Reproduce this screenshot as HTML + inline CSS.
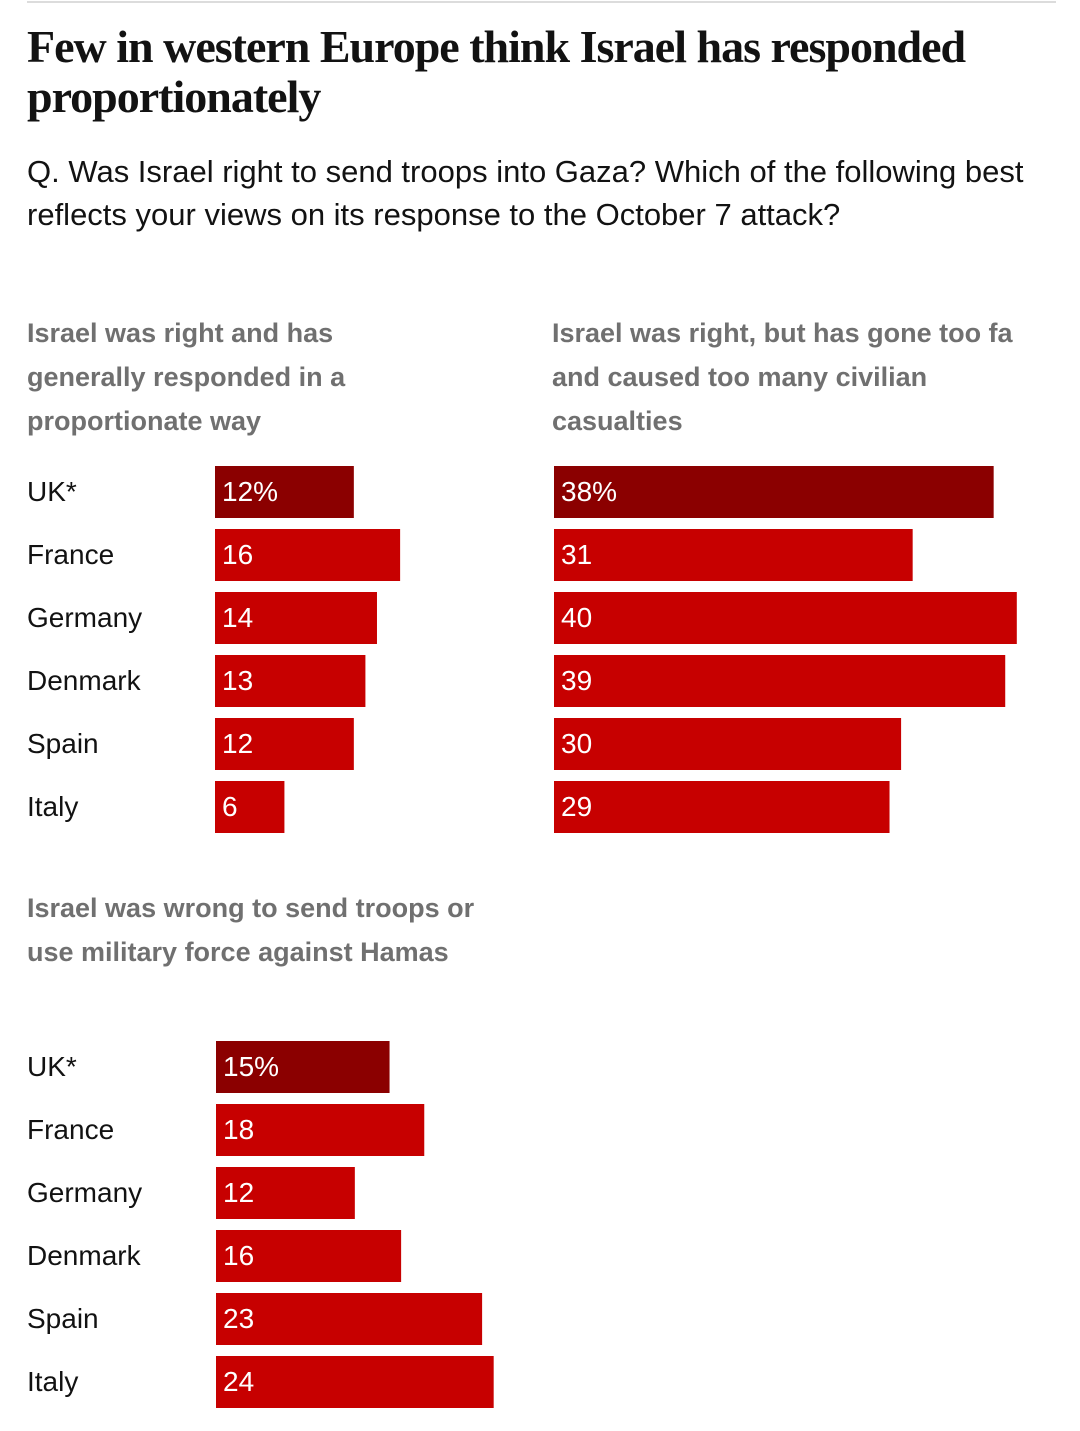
<!DOCTYPE html>
<html><head><meta charset="utf-8">
<style>
body{margin:0;width:1080px;height:1431px;background:#fff;position:relative;overflow:hidden;font-family:"Liberation Sans",sans-serif;}
.rule{position:absolute;left:27px;top:1px;width:1029px;height:2px;background:#dcdcdc;}
h1{position:absolute;left:27px;top:22px;margin:0;font-family:"Liberation Serif",serif;font-weight:bold;font-size:46px;line-height:50px;letter-spacing:-1px;color:#121212;width:1040px;}
.sub{position:absolute;left:27px;top:150px;font-size:31px;line-height:43px;color:#121212;width:1040px;}
.hd{position:absolute;font-size:27px;font-weight:bold;line-height:44px;color:#707070;}
svg{position:absolute;left:0;top:0;}
</style></head><body>
<div class="rule"></div>
<h1>Few in western Europe think Israel has responded proportionately</h1>
<div class="sub">Q. Was Israel right to send troops into Gaza? Which of the following best reflects your views on its response to the October 7 attack?</div>
<div class="hd" style="left:27px;top:311px;width:420px">Israel was right and has generally responded in a proportionate way</div>
<div class="hd" style="left:552px;top:311px;width:520px;white-space:nowrap;overflow:hidden">Israel was right, but has gone too fa<br>and caused too many civilian<br>casualties</div>
<div class="hd" style="left:27px;top:886px;width:480px">Israel was wrong to send troops or use military force against Hamas</div>
<svg id="chart" width="1080" height="1431"></svg>
<script>
const countries=["UK*","France","Germany","Denmark","Spain","Italy"];
const proportionate=[12,16,14,13,12,6];
const tooFar=[38,31,40,39,30,29];
const wrong=[15,18,12,16,23,24];
const NS="http://www.w3.org/2000/svg";
const svg=document.getElementById("chart");
const scale=v=>v*11.57;
function panel(vals,x0,y0,labels,name){
  vals.forEach((v,i)=>{
    const y=y0+i*63;
    if(labels){
      const t=document.createElementNS(NS,"text");
      
      
      t.setAttribute("x",27);t.setAttribute("y",y+35);
      t.setAttribute("font-size","28");t.setAttribute("fill","#121212");
      t.setAttribute("font-family","Liberation Sans, sans-serif");
      t.textContent=countries[i];svg.appendChild(t);
    }
    const r=document.createElementNS(NS,"rect");
    
    
    r.setAttribute("x",x0);r.setAttribute("y",y);
    r.setAttribute("width",scale(v));r.setAttribute("height",52);
    r.setAttribute("fill",i===0?"#8b0000":"#c70000");
    svg.appendChild(r);
    const t2=document.createElementNS(NS,"text");
    
    
    t2.setAttribute("x",x0+7);t2.setAttribute("y",y+35);
    t2.setAttribute("font-size","28");t2.setAttribute("fill","#fff");
    t2.setAttribute("font-family","Liberation Sans, sans-serif");
    t2.textContent=v+(i===0?"%":"");svg.appendChild(t2);
  });
}
panel(proportionate,215,466,true,"proportionate");
panel(tooFar,554,466,false,"too-far");
panel(wrong,216,1041,true,"wrong");
</script>
</body></html>
